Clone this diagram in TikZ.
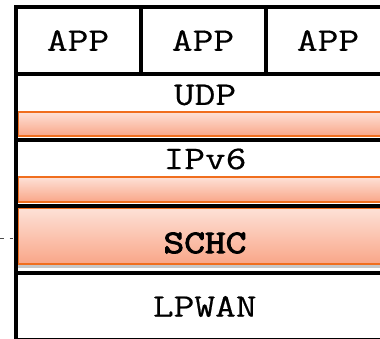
\documentclass[tikz,border=0pt]{standalone}
\usepackage{fontspec}
\setmonofont{Latin Modern Mono}[FakeStretch=1.22, FakeBold=0.5,
  BoldFont={Latin Modern Mono}, BoldFeatures={FakeBold=3}]
\usetikzlibrary{shadows}

\definecolor{schcline}{RGB}{240,110,30}
\definecolor{schctop}{RGB}{253,225,215}
\definecolor{schcbot}{RGB}{249,166,136}

\tikzset{
  layer/.style={draw=black, line width=4pt, fill=white, inner sep=0pt, outer sep=0pt,
    font=\ttfamily\fontsize{33}{38}\selectfont},
  lbl/.style={inner sep=0pt, font=\ttfamily\fontsize{33}{38}\selectfont},
  orangebar/.style={draw=schcline, line width=1.4pt, top color=schctop, bottom color=schcbot,
    minimum width=374pt, inner sep=0pt, outer sep=0pt},
  cutline/.style={draw=black!70, line width=0.8pt, dash pattern=on 3.5pt off 6pt},
}

\begin{document}
\begin{tikzpicture}[x=1pt, y=-1pt]
    \useasboundingbox (0,0) rectangle (380,338);
    \clip (0,0) rectangle (380,338);

    % application row
    \node[layer, minimum width=125pt, minimum height=67pt] (app1) at (78,40.5) {APP};
    \node[layer, minimum width=125pt, minimum height=67pt] (app2) at (203,40.5) {APP};
    \node[layer, minimum width=125pt, minimum height=67pt] (app3) at (328,40.5) {APP};

    % protocol layers
    \node[layer, minimum width=378.5pt, minimum height=66pt] (udp) at (204.75,107) {};
    \node[layer, minimum width=378.5pt, minimum height=66pt] (ipv6) at (204.75,173) {};
    \node[layer, minimum width=378.5pt, minimum height=67pt] (schc) at (204.75,239.5) {};
    \node[layer, minimum width=378.5pt, minimum height=67pt] (lpwan) at (204.75,306.5) {LPWAN};

    \node[orangebar, minimum height=24pt] (udpbar) at (205,124) {};
    \node[orangebar, minimum height=25pt] (ipv6bar) at (205,189.5) {};
    \node[orangebar, minimum height=56pt,
          drop shadow={shadow xshift=0pt, shadow yshift=-4pt, fill=black!22, opacity=1}] (schcbox) at (205,236) {};

    \node[lbl] (udptxt) at (205,95) {UDP};
    \node[lbl] (ipv6txt) at (205,159) {IPv6};
    \node[lbl, font=\ttfamily\bfseries\fontsize{33}{38}\selectfont] (schctxt) at (205,243) {SCHC};

    % the cut on the left
    \coordinate (cut) at (0,238.5);
    \draw[cutline] (cut) -- (cut -| schcbox.west);

    % frame lines over the bars
    \draw[line width=4pt] (udp.north west) -- (udp.north east);
    \draw[line width=4pt] (ipv6.north west) -- (ipv6.north east);
    \draw[line width=4pt] (schc.north west) -- (schc.north east);
    \draw[line width=4pt] (lpwan.north west) -- (lpwan.north east);
    \draw[line width=4pt] (app1.north west) -- (lpwan.south west);
\end{tikzpicture}
\end{document}
